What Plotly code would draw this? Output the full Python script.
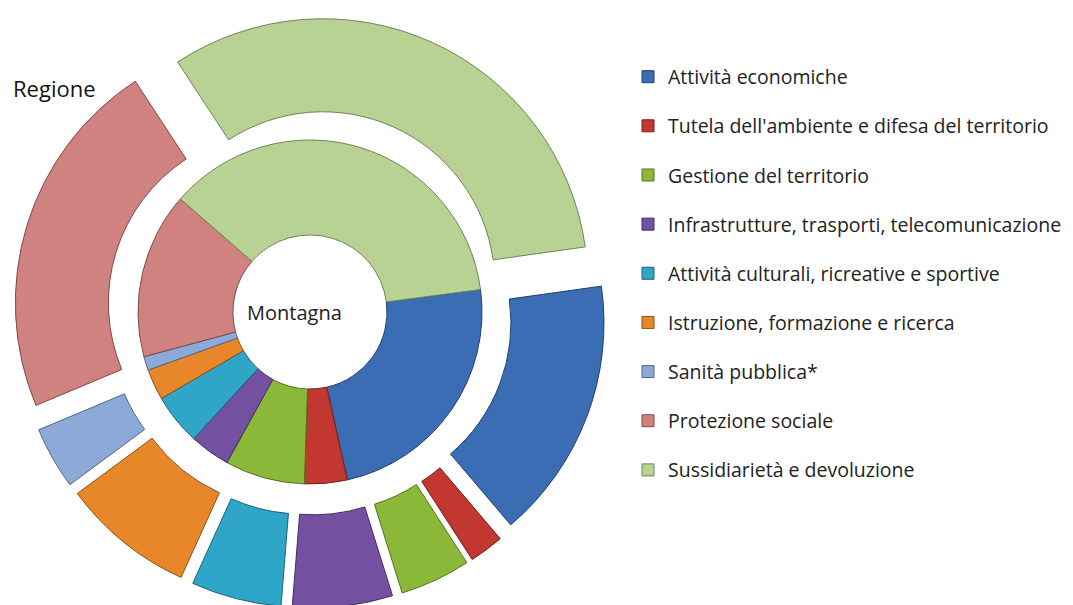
import plotly.graph_objects as go

categories = [
    "Attività economiche",
    "Tutela dell'ambiente e difesa del territorio",
    "Gestione del territorio",
    "Infrastrutture, trasporti, telecomunicazione",
    "Attività culturali, ricreative e sportive",
    "Istruzione, formazione e ricerca",
    "Sanità pubblica*",
    "Protezione sociale",
    "Sussidiarietà e devoluzione",
]
montagna = [23.6, 4.0, 7.5, 3.8, 4.8, 2.9, 1.3, 15.6, 36.5]
regione = [16.0, 2.1, 4.3, 6.1, 5.5, 8.1, 3.8, 22.1, 32.0]

colors = ["#3A6DB4", "#C2372F", "#8CB83A", "#7451A0", "#2FA5C8",
          "#E8872A", "#8CA9D8", "#D08280", "#B8D293"]
edges = ["#1F3F6E", "#7A1E1A", "#55731F", "#432E62", "#1A6479",
         "#8C4F14", "#51688A", "#7F4A49", "#6E8456"]

W, H = 1073, 605
FONT = "Open Sans"
fig = go.Figure()

# inner ring (Montagna)
fig.add_trace(go.Pie(
    name="Montagna", labels=categories, values=montagna, sort=False,
    direction="clockwise", rotation=82.5, hole=0.448,
    marker=dict(colors=colors, line=dict(color=edges, width=1)),
    textinfo="none", showlegend=False,
    domain=dict(x=[130 / W, 474 / W], y=[129 / H, 473 / H]),
))

# outer ring (Regione), exploded
fig.add_trace(go.Pie(
    name="Regione", labels=categories, values=regione, sort=False,
    direction="clockwise", rotation=82, hole=0.649,
    pull=[0.117] * len(categories),
    marker=dict(colors=colors, line=dict(color=edges, width=1)),
    textinfo="none", showlegend=False,
    domain=dict(x=[6 / W, 598 / W], y=[5 / H, 597 / H]),
))

# legend entries
for i, c in enumerate(categories):
    fig.add_trace(go.Scatter(
        x=[None], y=[None], mode="markers", name=c, legendgroup=f"g{i}",
        marker=dict(symbol="square", size=12, color=colors[i],
                    line=dict(color=edges[i], width=1)),
        showlegend=True,
    ))

fig.add_annotation(text="Montagna", x=286 / W, y=1 - 304 / H, xref="paper", yref="paper",
                   showarrow=False, xanchor="center", yanchor="middle",
                   font=dict(family=FONT, size=20, color="#222222"))
fig.add_annotation(text="Regione", x=3 / W, y=1 - 80 / H, xref="paper", yref="paper",
                   showarrow=False, xanchor="left", yanchor="middle",
                   font=dict(family=FONT, size=22, color="#111111"))

fig.update_layout(
    width=W, height=H,
    margin=dict(l=0, r=0, t=0, b=0),
    paper_bgcolor="white", plot_bgcolor="white",
    xaxis=dict(visible=False), yaxis=dict(visible=False),
    showlegend=True,
    legend=dict(
        x=620 / W, y=1 - 49.5 / H, xanchor="left", yanchor="top",
        traceorder="grouped", tracegroupgap=20.8,
        font=dict(family=FONT, size=19.5, color="#222222"),
        bgcolor="rgba(0,0,0,0)",
    ),
)

fig.write_html("out.html")
